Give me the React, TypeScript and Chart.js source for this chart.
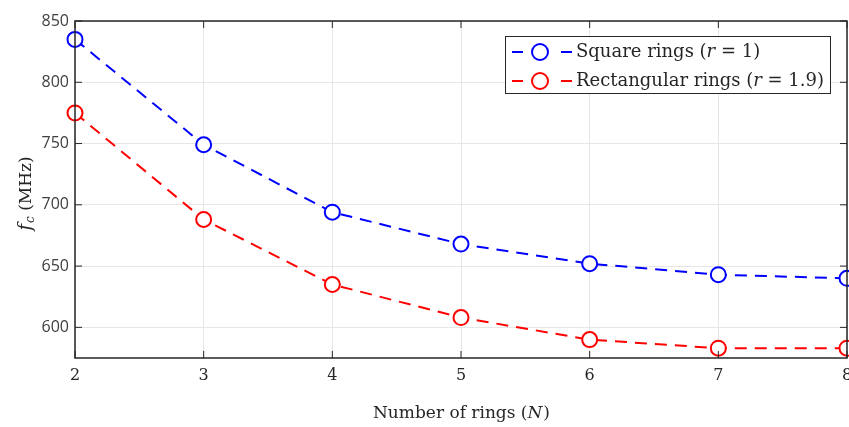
import React, { useEffect, useRef } from "react";
import { Chart, registerables } from "chart.js";
Chart.register(...registerables);

const rings = [2, 3, 4, 5, 6, 7, 8];
const squareRings = [835, 749, 694, 668, 652, 643, 640];
const rectRings = [775, 688, 635, 608, 590, 583, 583];
const yTicks = [600, 650, 700, 750, 800, 850];
const seriesLabels = ["Square rings (", "Rectangular rings ("];
const seriesR = ["1", "1.9"];

const SERIF = "'DejaVu Serif', 'Liberation Serif', serif";
const SANS = "'Open Sans', 'DejaVu Sans', sans-serif";

const framePlugin = {
  id: "frame",
  afterDraw(chart: any) {
    const { ctx, chartArea: a, scales } = chart;
    ctx.save();
    ctx.strokeStyle = "#262626";
    ctx.lineWidth = 1.5;
    ctx.strokeRect(a.left, a.top, a.right - a.left, a.bottom - a.top);
    ctx.lineWidth = 1;
    const tl = 7;
    ctx.beginPath();
    scales.x.ticks.forEach((t: any) => {
      const px = scales.x.getPixelForValue(t.value);
      ctx.moveTo(px, a.bottom); ctx.lineTo(px, a.bottom - tl);
      ctx.moveTo(px, a.top); ctx.lineTo(px, a.top + tl);
    });
    scales.y.ticks.forEach((t: any) => {
      const py = scales.y.getPixelForValue(t.value);
      ctx.moveTo(a.left, py); ctx.lineTo(a.left + tl, py);
      ctx.moveTo(a.right, py); ctx.lineTo(a.right - tl, py);
    });
    ctx.stroke();

    // y title: f_c (MHz)
    ctx.save();
    ctx.translate(31, (a.top + a.bottom) / 2 + 4);
    ctx.rotate(-Math.PI / 2);
    ctx.fillStyle = "#262626";
    ctx.textBaseline = "alphabetic";
    ctx.font = `italic 18px ${SERIF}`;
    const f = "f";
    const fw = ctx.measureText(f).width;
    ctx.font = `italic 12px ${SERIF}`;
    const c = "c";
    const cw = ctx.measureText(c).width;
    ctx.font = `17px ${SERIF}`;
    const rest = " (MHz)";
    const rw = ctx.measureText(rest).width;
    const total = fw + cw + 1 + rw;
    let x0 = -total / 2;
    ctx.font = `italic 18px ${SERIF}`;
    ctx.fillText(f, x0, 0);
    x0 += fw + 1;
    ctx.font = `italic 12px ${SERIF}`;
    ctx.fillText(c, x0, 3);
    x0 += cw;
    ctx.font = `17px ${SERIF}`;
    ctx.fillText(rest, x0, 0);
    ctx.restore();

    // legend
    const lx = 505, ly = 36, lw = 325, lh = 57;
    ctx.fillStyle = "#ffffff";
    ctx.fillRect(lx, ly, lw, lh);
    ctx.strokeStyle = "#262626";
    ctx.lineWidth = 1;
    ctx.strokeRect(lx + 0.5, ly + 0.5, lw, lh);
    const colors = ["#0000ff", "#ff0000"];
    colors.forEach((col, i) => {
      const cy = ly + 16 + i * 29;
      ctx.strokeStyle = col;
      ctx.lineWidth = 2;
      ctx.beginPath();
      ctx.moveTo(lx + 7, cy); ctx.lineTo(lx + 18, cy);
      ctx.moveTo(lx + 56, cy); ctx.lineTo(lx + 67, cy);
      ctx.stroke();
      ctx.beginPath();
      ctx.arc(lx + 35, cy, 8, 0, Math.PI * 2);
      ctx.fillStyle = "#fff";
      ctx.fill();
      ctx.stroke();
      ctx.fillStyle = "#262626";
      ctx.textBaseline = "middle";
      let tx = lx + 71;
      ctx.font = `18px ${SERIF}`;
      ctx.fillText(seriesLabels[i], tx, cy);
      tx += ctx.measureText(seriesLabels[i]).width;
      ctx.font = `italic 18px ${SERIF}`;
      ctx.fillText("r", tx, cy);
      tx += ctx.measureText("r").width;
      ctx.font = `18px ${SERIF}`;
      const s = " = " + seriesR[i] + ")";
      ctx.fillText(s, tx, cy);
    });

    // x title
    ctx.fillStyle = "#262626";
    ctx.textBaseline = "alphabetic";
    const xt1 = "Number of rings (";
    const xt2 = "N";
    const xt3 = ")";
    ctx.font = `17px ${SERIF}`;
    const w1 = ctx.measureText(xt1).width;
    const w3 = ctx.measureText(xt3).width;
    ctx.font = `italic 17px ${SERIF}`;
    const w2 = ctx.measureText(xt2).width;
    let xx = (a.left + a.right) / 2 - (w1 + w2 + w3) / 2;
    const yy = 418;
    ctx.font = `17px ${SERIF}`;
    ctx.fillText(xt1, xx, yy);
    xx += w1;
    ctx.font = `italic 17px ${SERIF}`;
    ctx.fillText(xt2, xx, yy);
    xx += w2 + 1;
    ctx.font = `17px ${SERIF}`;
    ctx.fillText(xt3, xx, yy);
    ctx.restore();
  },
};

export default function App() {
  const ref = useRef<HTMLCanvasElement | null>(null);
  useEffect(() => {
    if (!ref.current) return;
    const ds = (label: string, data: number[], color: string) => ({
      label,
      data: rings.map((x, i) => ({ x, y: data[i] })),
      borderColor: color,
      backgroundColor: color,
      borderWidth: 2,
      borderDash: [12, 8],
      pointRadius: 7.5,
      pointBorderWidth: 2,
      pointBackgroundColor: "#ffffff",
      pointBorderColor: color,
      tension: 0,
      clip: false as any,
    });
    const chart = new Chart(ref.current, {
      type: "line",
      data: {
        datasets: [
          ds("Square rings (r = 1)", squareRings, "#0000ff"),
          ds("Rectangular rings (r = 1.9)", rectRings, "#ff0000"),
        ],
      },
      plugins: [framePlugin],
      options: {
        animation: false,
        responsive: false,
        layout: { autoPadding: false, padding: { top: 21, right: 2, left: 0, bottom: 0 } },
        plugins: { legend: { display: false }, tooltip: { enabled: false } },
        scales: {
          x: {
            type: "linear",
            min: 2,
            max: 8,
            ticks: { stepSize: 1, color: "#262626", font: { family: SERIF, size: 16 }, padding: 8 },
            grid: { color: "#e6e6e6", drawTicks: false },
            border: { display: false },
            afterFit(s: any) { s.height = 69; s.paddingLeft = 0; s.paddingRight = 0; },
          },
          y: {
            type: "linear",
            min: 575,
            max: 850,
            afterBuildTicks(s: any) { s.ticks = yTicks.map((v) => ({ value: v })); },
            ticks: { color: "#404040", font: { family: SANS, size: 16 }, padding: 6 },
            grid: { color: "#e6e6e6", drawTicks: false },
            border: { display: false },
            afterFit(s: any) { s.width = 75; s.paddingTop = 0; s.paddingBottom = 0; },
          },
        },
      },
    });
    return () => chart.destroy();
  }, []);
  return (
    <div style={{ position: "absolute", left: 0, top: 0, width: 849, height: 427, background: "#fff" }}>
      <canvas ref={ref} width={849} height={427} style={{ width: 849, height: 427 }} />
    </div>
  );
}
